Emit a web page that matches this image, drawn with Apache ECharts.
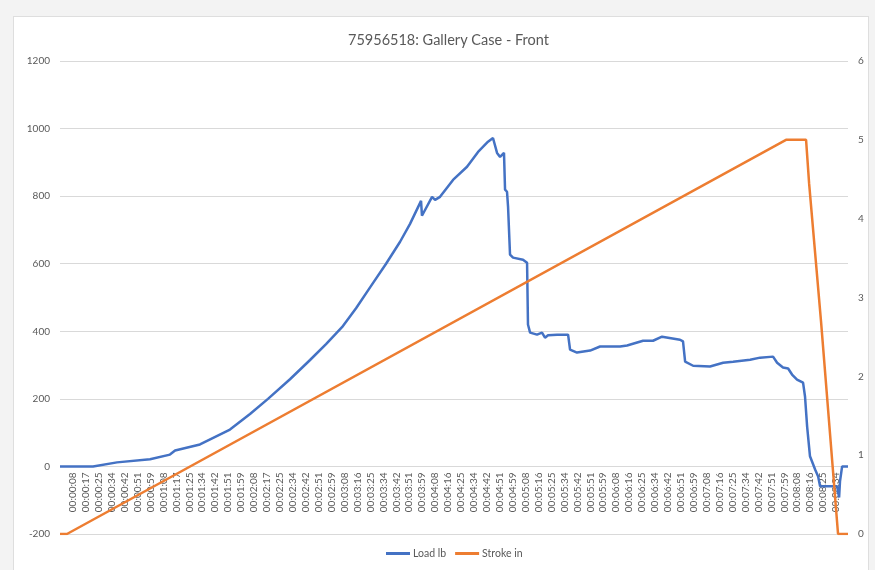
<!DOCTYPE html>
<html>
<head>
<meta charset="utf-8">
<script src="https://cdn.jsdelivr.net/npm/echarts@6/dist/echarts.min.js"></script>
<style>
  body { margin: 0; background: #f3f3f3; }
  #frame { position: absolute; left: 13px; top: 16px; width: 854px; height: 560px; background: #fff; border: 1px solid #dedede; }
  #chart { position: absolute; left: 0; top: 0; width: 875px; height: 570px; }
</style>
</head>
<body>
<div id="frame"></div>
<div id="chart"></div>
<script>
// time labels shown under the x axis (every ~8.58 s)
var timeLabels = [
  '00:00:08', '00:00:17', '00:00:25', '00:00:34', '00:00:42', '00:00:51', '00:00:59',
  '00:01:08', '00:01:17', '00:01:25', '00:01:34', '00:01:42', '00:01:51', '00:01:59',
  '00:02:08', '00:02:17', '00:02:25', '00:02:34', '00:02:42', '00:02:51', '00:02:59',
  '00:03:08', '00:03:16', '00:03:25', '00:03:34', '00:03:42', '00:03:51', '00:03:59',
  '00:04:08', '00:04:16', '00:04:25', '00:04:34', '00:04:42', '00:04:51', '00:04:59',
  '00:05:08', '00:05:16', '00:05:25', '00:05:34', '00:05:42', '00:05:51', '00:05:59',
  '00:06:08', '00:06:16', '00:06:25', '00:06:34', '00:06:42', '00:06:51', '00:06:59',
  '00:07:08', '00:07:16', '00:07:25', '00:07:34', '00:07:42', '00:07:51', '00:07:59',
  '00:08:08', '00:08:16', '00:08:25', '00:08:34'
]
var tickStep = 8.5763 // seconds between labels
var timeMax = 522.5

// Load lb (seconds, value)
var loadTime = [0, 21.9, 37.8, 59.7, 72.9, 76.3, 92.8, 112.7, 126, 137.9, 152.5, 165.8, 176.4,
  187, 196.3, 205.6, 216.2, 225.5, 232.1, 239.4, 240, 246.7, 248.7, 252, 260.6, 269.9, 277.2,
  283.8, 287.1, 289.8, 291.8, 294.4, 295.1, 296.4, 297.1, 298.4, 300.4, 307, 309.7, 310.3,
  311.7, 316.3, 319.6, 321.6, 323.6, 329.6, 336.9, 338.2, 342.8, 351.5, 358.1, 371.4, 376,
  386.6, 393.2, 399.2, 411.1, 413.1, 414.5, 419.8, 431, 439.7, 446.3, 457.6, 464.2, 472.8,
  475.5, 479.4, 482.8, 485.4, 488.7, 492.7, 494, 495.4, 497.3, 500.7, 502.7, 504, 515.3,
  516.6, 517.2, 518.6, 522.5]
var loadValue = [0, 0, 12, 21, 35, 47, 65, 109, 155, 200, 258, 315, 362,
  412, 468, 530, 600, 665, 718, 786, 742, 798, 789, 798, 848, 887, 931,
  961, 972, 928, 916, 928, 819, 813, 768, 627, 618, 612, 603, 420,
  396, 390, 396, 381, 388, 390, 390, 346, 337, 343, 355, 355, 358,
  372, 372, 384, 375, 370, 310, 298, 296, 307, 310, 316, 322, 325,
  307, 293, 290, 272, 257, 248, 207, 118, 30, -9, -30, -59, -59,
  -92, -44, 0, 0]

// Stroke in (seconds, value)
var strokeTime = [0, 4.6, 481.4, 494.7, 496.7, 504.6, 515.9, 522.5]
var strokeValue = [0, 0, 5, 5, 4.45, 2.7, 0, 0]

function pairs (xs, ys) {
  return xs.map(function (x, i) { return [x, ys[i]] })
}

var chart = echarts.init(document.getElementById('chart'))
var font = 'Lato, "Open Sans", sans-serif'
var option = {
  textStyle: { fontFamily: font },
  title: {
    text: '75956518: Gallery Case - Front',
    left: 343,
    top: 28,
    textStyle: { fontSize: 14.5, fontWeight: 'normal', color: '#595959', fontFamily: font }
  },
  legend: {
    data: ['Load lb', 'Stroke in'],
    bottom: 6,
    left: 381,
    icon: 'rect',
    itemWidth: 24,
    itemHeight: 3,
    itemGap: 9,
    textStyle: { fontSize: 10.5, color: '#595959', fontFamily: font, padding: [0, 0, 0, -2] }
  },
  grid: { left: 60, right: 27, top: 61, bottom: 36 },
  xAxis: {
    type: 'value',
    min: 0,
    max: timeMax,
    interval: tickStep,
    offset: -67.6, // sits on the 0 line of the left axis, like the original
    axisLine: { show: false, onZero: false },
    axisTick: { show: false },
    splitLine: { show: false },
    axisLabel: {
      rotate: 90,
      margin: 6,
      fontSize: 10,
      color: '#595959',
      showMinLabel: false,
      showMaxLabel: false,
      formatter: function (v) {
        var i = Math.round(v / tickStep)
        return i >= 1 && i <= timeLabels.length ? timeLabels[i - 1] : ''
      }
    }
  },
  yAxis: [
    {
      type: 'value',
      min: -200,
      max: 1200,
      interval: 200,
      axisLine: { show: false },
      axisTick: { show: false },
      axisLabel: { fontSize: 10, color: '#595959', margin: 10, formatter: function (v) { return String(v) } },
      splitLine: { lineStyle: { color: '#d9d9d9' } }
    },
    {
      type: 'value',
      min: 0,
      max: 6,
      interval: 1,
      axisLine: { show: false },
      axisTick: { show: false },
      axisLabel: { fontSize: 10, color: '#595959', margin: 10 },
      splitLine: { show: false }
    }
  ],
  series: [
    {
      name: 'Load lb',
      type: 'line',
      data: pairs(loadTime, loadValue),
      showSymbol: false,
      color: '#4472c4',
      lineStyle: { width: 2.5, color: '#4472c4' }
    },
    {
      name: 'Stroke in',
      type: 'line',
      yAxisIndex: 1,
      data: pairs(strokeTime, strokeValue),
      showSymbol: false,
      color: '#ed7d31',
      lineStyle: { width: 2.5, color: '#ed7d31' }
    }
  ]
}
chart.setOption(option)
</script>
</body>
</html>
